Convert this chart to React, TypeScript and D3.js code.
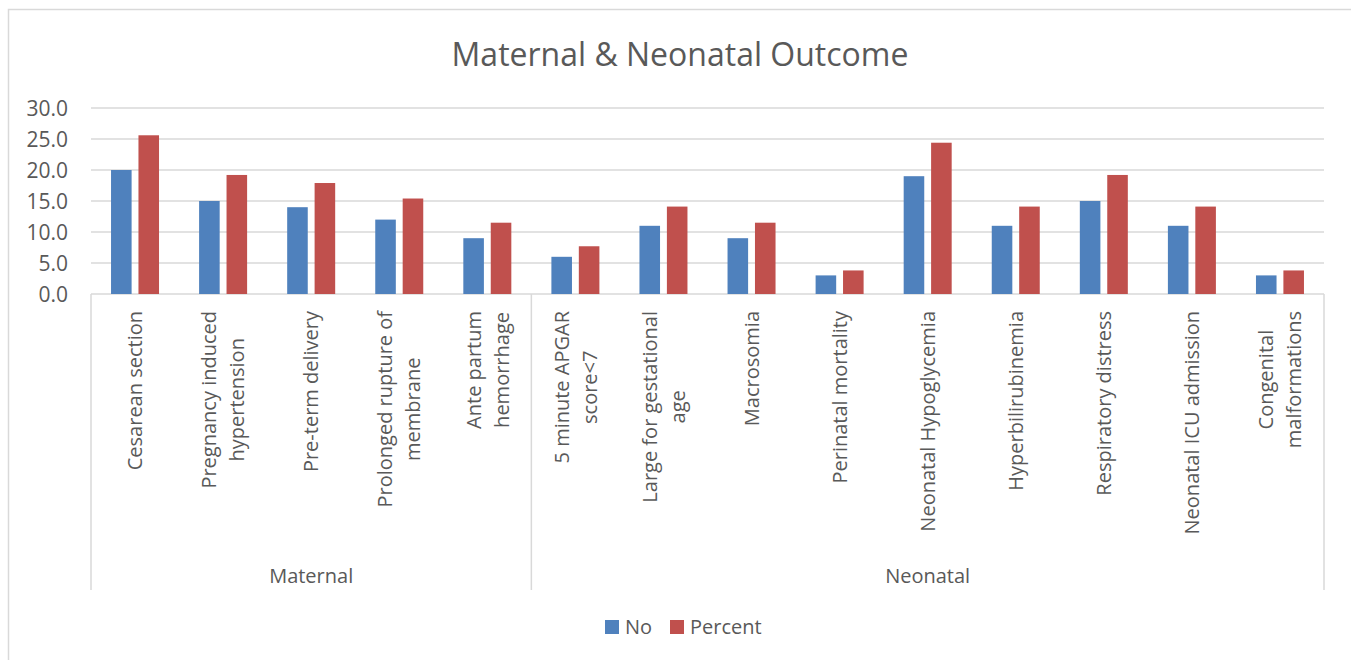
import React from "react";
import * as d3 from "d3";

const categoryLines: string[][] = [
  ["Cesarean section"],
  ["Pregnancy induced", "hypertension"],
  ["Pre-term delivery"],
  ["Prolonged rupture of", "membrane"],
  ["Ante partum", "hemorrhage"],
  ["5 minute APGAR", "score<7"],
  ["Large for gestational", "age"],
  ["Macrosomia"],
  ["Perinatal mortality"],
  ["Neonatal Hypoglycemia"],
  ["Hyperbilirubinemia"],
  ["Respiratory distress"],
  ["Neonatal ICU admission"],
  ["Congenital", "malformations"],
];
const groups = ["Maternal", "Neonatal"];
const groupCounts = [5, 9];
const noValues = [20, 15, 14, 12, 9, 6, 11, 9, 3, 19, 11, 15, 11, 3];
const percentValues = [25.6, 19.2, 17.9, 15.4, 11.5, 7.7, 14.1, 11.5, 3.8, 24.4, 14.1, 19.2, 14.1, 3.8];
const seriesNames = ["No", "Percent"];
const seriesColors = ["#4F81BD", "#C0504D"];
const yTicks = [0, 5, 10, 15, 20, 25, 30];
const title = "Maternal & Neonatal Outcome";

const W = 1351;
const H = 660;
const FONT = "'Open Sans', sans-serif";
const TXT = "#595959";
const GRID = "#d9d9d9";
const LABEL_SIZE = 20;

let ctx: CanvasRenderingContext2D | null = null;
function measure(text: string): number {
  if (!ctx && typeof document !== "undefined") {
    ctx = document.createElement("canvas").getContext("2d");
  }
  if (!ctx) return text.length * LABEL_SIZE * 0.5;
  ctx.font = `${LABEL_SIZE}px 'Open Sans', sans-serif`;
  return ctx.measureText(text).width;
}

export default function App() {
  const left = 91;
  const right = 1324;
  const top = 108;
  const bottom = 294;
  const idx = categoryLines.map((_, i) => i);
  const x0 = d3.scaleBand<number>().domain(idx).range([left, right]).padding(0);
  const x1 = d3.scaleBand<string>().domain(seriesNames).range([-24, 24]).paddingInner(0.25).paddingOuter(0);
  const y = d3.scaleLinear().domain([0, 30]).range([bottom, top]);
  const series = [noValues, percentValues];

  const bounds: number[] = [left];
  let acc = 0;
  groupCounts.forEach((c) => {
    acc += c;
    bounds.push(acc < idx.length ? (x0(acc) as number) : right);
  });

  const axisBottom = 590;
  const labelTop = 311;
  const lineGap = 28;

  return (
    <svg
      width={W}
      height={H}
      style={{ position: "absolute", left: 0, top: 0, display: "block", background: "#fff" }}
    >
      <rect x={0} y={0} width={W} height={H} fill="#fff" />
      <rect x={8.5} y={9.5} width={W + 20} height={H + 20} fill="none" stroke={GRID} strokeWidth={1.5} />
      <text x={680} y={66} textAnchor="middle" fontFamily={FONT} fontSize={32} fill={TXT}>
        {title}
      </text>
      {yTicks.map((t) => (
        <g key={t}>
          <line x1={left} x2={right} y1={y(t)} y2={y(t)} stroke={GRID} strokeWidth={1.5} />
          <text x={68} y={y(t)} dy="0.36em" textAnchor="end" fontFamily={FONT} fontSize={21} fill={TXT}>
            {t.toFixed(1)}
          </text>
        </g>
      ))}
      {series.map((vals, si) =>
        vals.map((v, i) => {
          const cx = (x0(i) as number) + x0.bandwidth() / 2;
          return (
            <rect
              key={`${si}-${i}`}
              x={cx + (x1(seriesNames[si]) as number)}
              y={y(v)}
              width={x1.bandwidth()}
              height={y(0) - y(v)}
              fill={seriesColors[si]}
            />
          );
        })
      )}
      {bounds.map((b, i) => (
        <line key={i} x1={b} x2={b} y1={bottom} y2={axisBottom} stroke={GRID} strokeWidth={1.5} />
      ))}
      {categoryLines.map((lines, i) => {
        const cx = (x0(i) as number) + x0.bandwidth() / 2;
        const maxW = Math.max(...lines.map(measure));
        return (
          <g key={i} transform={`translate(${cx},${labelTop}) rotate(-90)`}>
            {lines.map((ln, li) => (
              <text
                key={li}
                x={-maxW / 2}
                y={(li - (lines.length - 1) / 2) * lineGap}
                dy="0.36em"
                textAnchor="middle"
                fontFamily={FONT}
                fontSize={LABEL_SIZE}
                fill={TXT}
              >
                {ln}
              </text>
            ))}
          </g>
        );
      })}
      {groups.map((g, i) => (
        <text
          key={g}
          x={(bounds[i] + bounds[i + 1]) / 2}
          y={583}
          textAnchor="middle"
          fontFamily={FONT}
          fontSize={20}
          fill={TXT}
        >
          {g}
        </text>
      ))}
      {seriesNames.map((s, i) => {
        const lx = [605, 670][i];
        return (
          <g key={s}>
            <rect x={lx} y={620} width={14} height={14} fill={seriesColors[i]} />
            <text x={lx + 20} y={634} fontFamily={FONT} fontSize={20} fill={TXT}>
              {s}
            </text>
          </g>
        );
      })}
    </svg>
  );
}
